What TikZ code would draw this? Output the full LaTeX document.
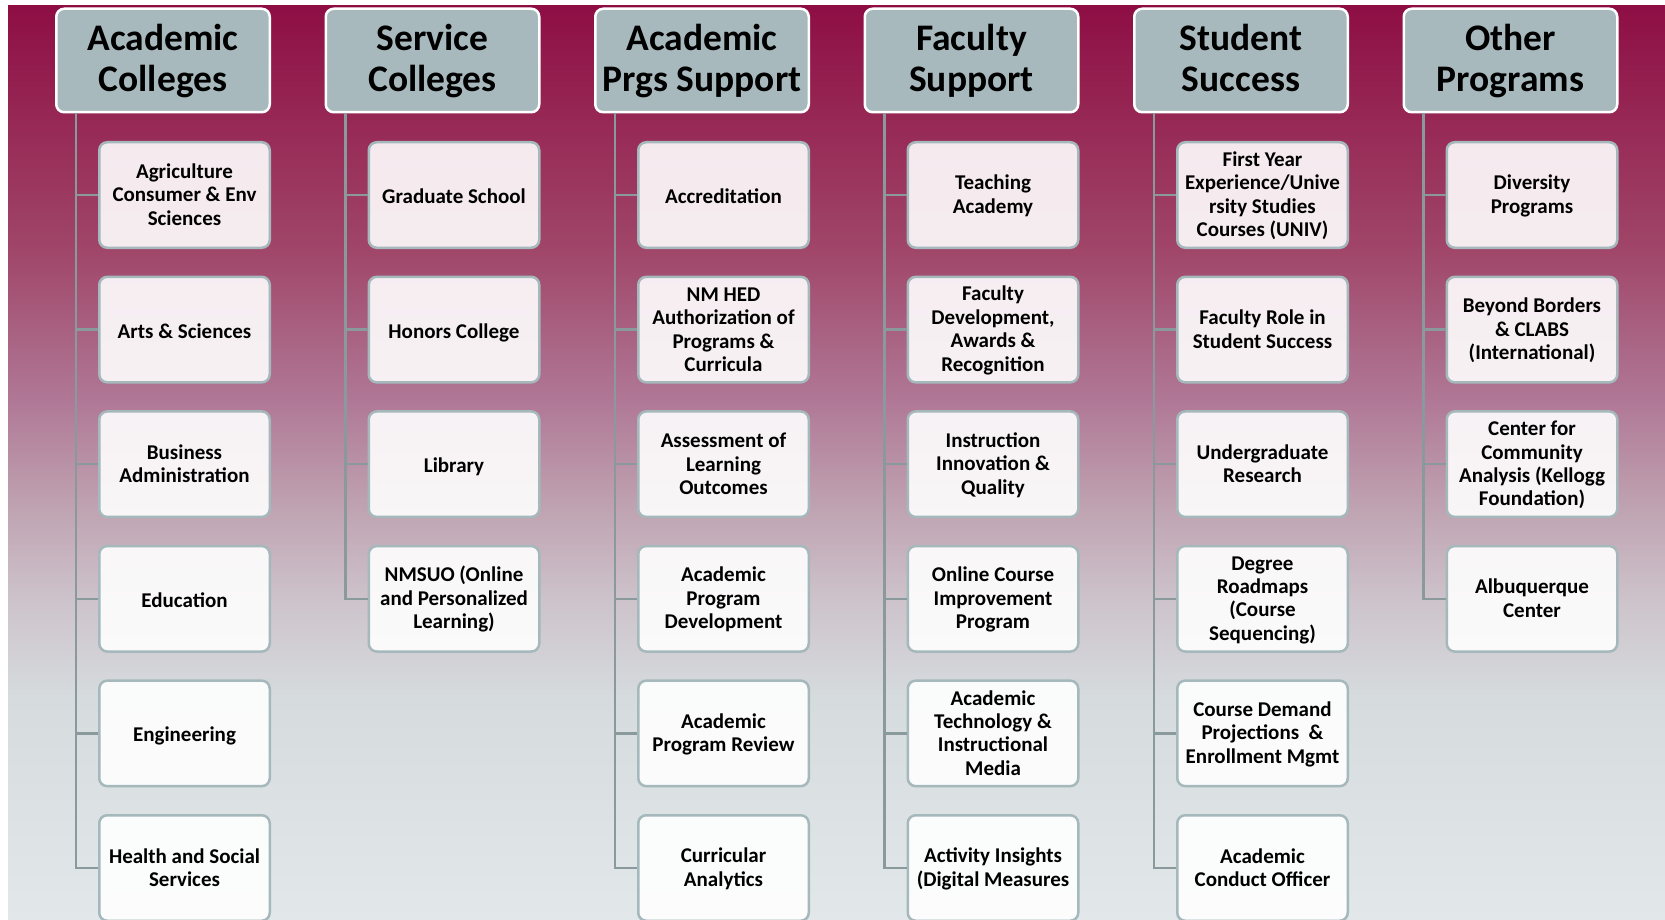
\documentclass[tikz,border=0pt]{standalone}
\usepackage{fontspec}
\setmainfont{Carlito}
\definecolor{bgA}{RGB}{142,14,68}
\definecolor{bgB}{RGB}{160,70,105}
\definecolor{bgC}{RGB}{176,120,150}
\definecolor{bgD}{RGB}{190,160,175}
\definecolor{bgE}{RGB}{205,195,203}
\definecolor{bgF}{RGB}{214,220,222}
\definecolor{bgG}{RGB}{226,231,233}
\definecolor{headfill}{RGB}{168,185,189}
\definecolor{kidline}{RGB}{165,184,188}
\definecolor{connline}{RGB}{138,154,156}
\pgfdeclareverticalshading{bgshade}{100bp}{color(0bp)=(bgG); color(25bp)=(bgG); color(37.04bp)=(bgF); color(42.5bp)=(bgE); color(47.98bp)=(bgD); color(53.45bp)=(bgC); color(61.65bp)=(bgB); color(75bp)=(bgA); color(100bp)=(bgA)}
\tikzset{
  headbox/.style={draw=white, line width=2.5pt, fill=headfill, rounded corners=8pt,
    minimum width=213.5pt, minimum height=103.5pt, align=center, inner sep=0pt,
    font=\bfseries\fontsize{37.5}{41.4}\selectfont},
  kidbox/.style={draw=kidline, line width=2.5pt, fill=white, fill opacity=0.9, text opacity=1,
    rounded corners=8pt, minimum width=170.5pt, minimum height=105.5pt, align=center, inner sep=0pt,
    font=\bfseries\fontsize{21}{23.4}\selectfont},
  conn/.style={draw=connline, line width=2.5pt}
}
\newcommand\hdend{\vrule height0pt depth8pt width0pt}
\newcommand\kidend{\vrule height0pt depth2.6pt width0pt}
\newcommand\onetop{\vrule height20.4pt depth0pt width0pt}
\newcommand\hd[3]{\node[headbox] (#1) at ({55+269.5*(#2-1)+108},60.5) {\strut#3\hdend};}
\newcommand\kid[4]{\node[kidbox] (#1) at ({55+269.5*(#2-1)+129.5},{195+134.6*(#3-1)}) {\strut#4\kidend};}
\newcommand\kidone[4]{\node[kidbox] (#1) at ({55+269.5*(#2-1)+129.5},{195+134.6*(#3-1)}) {\onetop#4\kidend};}
\begin{document}
\begin{tikzpicture}[x=1pt,y=-1pt]
\useasboundingbox (0,0) rectangle (1665,920);
\clip (0,0) rectangle (1665,920);
\fill[white] (0,0) rectangle (1665,920);
\shade[shading=bgshade] (8,6) rectangle (1665,920);

\hd{h1}{1}{Academic\\Colleges}
\hd{h2}{2}{Service\\Colleges}
\hd{h3}{3}{Academic\\Prgs Support}
\hd{h4}{4}{Faculty\\Support}
\hd{h5}{5}{Student\\Success}
\hd{h6}{6}{Other\\Programs}

\kid{a1}{1}{1}{Agriculture\\Consumer \& Env\\Sciences}
\kidone{a2}{1}{2}{Arts \& Sciences}
\kid{a3}{1}{3}{Business\\Administration}
\kidone{a4}{1}{4}{Education}
\kidone{a5}{1}{5}{Engineering}
\kid{a6}{1}{6}{Health and Social\\Services}

\kidone{b1}{2}{1}{Graduate School}
\kidone{b2}{2}{2}{Honors College}
\kidone{b3}{2}{3}{Library}
\kid{b4}{2}{4}{NMSUO (Online\\and Personalized\\Learning)}

\kidone{c1}{3}{1}{Accreditation}
\kid{c2}{3}{2}{NM HED\\Authorization of\\Programs \&\\Curricula}
\kid{c3}{3}{3}{Assessment of\\Learning\\Outcomes}
\kid{c4}{3}{4}{Academic\\Program\\Development}
\kid{c5}{3}{5}{Academic\\Program Review}
\kid{c6}{3}{6}{Curricular\\Analytics}

\kid{d1}{4}{1}{Teaching\\Academy}
\kid{d2}{4}{2}{Faculty\\Development,\\Awards \&\\Recognition}
\kid{d3}{4}{3}{Instruction\\Innovation \&\\Quality}
\kid{d4}{4}{4}{Online Course\\Improvement\\Program}
\kid{d5}{4}{5}{Academic\\Technology \&\\Instructional\\Media}
\kid{d6}{4}{6}{Activity Insights\\(Digital Measures}

\kid{e1}{5}{1}{First Year\\Experience/Unive\\rsity Studies\\Courses (UNIV)}
\kid{e2}{5}{2}{Faculty Role in\\Student Success}
\kid{e3}{5}{3}{Undergraduate\\Research}
\kid{e4}{5}{4}{Degree\\Roadmaps\\(Course\\Sequencing)}
\kid{e5}{5}{5}{Course Demand\\Projections~\ \&\\Enrollment Mgmt}
\kid{e6}{5}{6}{Academic\\Conduct Officer}

\kid{f1}{6}{1}{Diversity\\Programs}
\kid{f2}{6}{2}{Beyond Borders\\\& CLABS\\(International)}
\kid{f3}{6}{3}{Center for\\Community\\Analysis (Kellogg\\Foundation)}
\kid{f4}{6}{4}{Albuquerque\\Center}

% trunk coordinates
\foreach \h in {h1,h2,h3,h4,h5,h6}{
  \coordinate (\h t) at ([xshift=21pt]\h.south west);
}
\foreach \h/\k/\n in {h1/a/6, h2/b/4, h3/c/6, h4/d/6, h5/e/6, h6/f/4}{
  \draw[conn] (\h t) |- (\k\n.west);
  \foreach \i in {1,...,\n}{
    \draw[conn] (\h t |- \k\i.west) -- (\k\i.west);
  }
}
\end{tikzpicture}
\end{document}
